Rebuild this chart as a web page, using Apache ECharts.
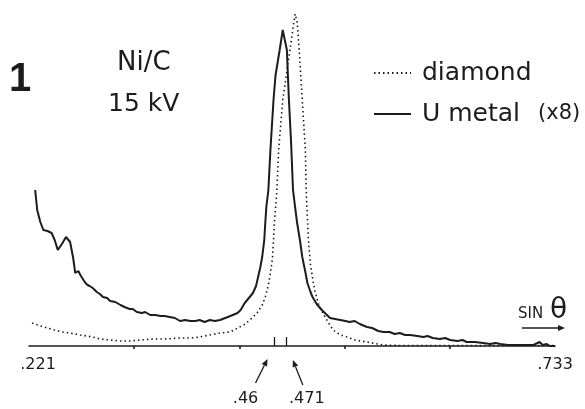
<!DOCTYPE html>
<html>
<head>
<meta charset="utf-8">
<script src="https://cdn.jsdelivr.net/npm/echarts@6/dist/echarts.min.js"></script>
<style>
  html, body { margin: 0; padding: 0; background: #fff; }
  #main { width: 585px; height: 409px; }
</style>
</head>
<body>
<div id="main"></div>
<script>
// sin(theta) scale
var axisMin = 0.221;
var axisMax = 0.733;
var endLabels = [0.221, 0.733];
var tickValues = [0.323, 0.426, 0.528, 0.631];
var markerValues = [0.46, 0.471];

// U metal (x8), solid trace - intensity in arbitrary units above the baseline
var uMetalSin = [.227,.228,.229,.232,.235,.239,.243,.246,.249,.253,
  .257,.261,.264,.266,.269,.271,.274,.276,.278,.280,
  .283,.287,.290,.293,.297,.300,.305,.310,.314,.319,
  .322,.326,.331,.334,.339,.344,.349,.353,.358,.363,
  .368,.373,.378,.383,.387,.392,.397,.402,.407,.412,
  .417,.424,.427,.431,.435,.439,.442,.444,.446,.448,
  .450,.451,.452,.454,.456,.459,.461,.465,.468,.470,
  .472,.473,.474,.476,.478,.480,.482,.485,.487,.490,
  .492,.495,.497,.501,.506,.510,.514,.519,.524,.529,
  .533,.538,.543,.550,.555,.561,.566,.572,.577,.582,
  .587,.592,.599,.605,.609,.614,.621,.626,.631,.638,
  .643,.647,.655,.663,.670,.675,.680,.687,.696,.704,
  .712,.716,.718,.721,.725,.728,.733];
var uMetalInt = [156,146,136,124,116,115,113,106,96,102,
  109,104,88,73,75,71,66,63,61,60,
  58,54,52,49,48,45,44,41,39,37,
  37,34,33,34,31,31,30,30,29,28,
  25,26,25,25,26,24,26,25,26,28,
  30,33,36,43,48,53,60,69,78,89,
  106,123,139,156,196,246,271,296,316,306,
  296,271,246,206,156,139,123,104,89,74,
  63,54,49,42,36,32,28,27,26,25,
  24,25,22,19,18,15,14,14,12,13,
  11,11,10,9,10,8,7,8,6,5,
  6,4,4,3,2,3,2,1,1,1,
  1,3,4,1,2,0,0];

// diamond, dotted trace
var diamondSin = [.224,.232,.239,.246,.253,.261,.271,.283,.290,.300,
  .310,.319,.329,.342,.353,.368,.378,.387,.397,.407,
  .417,.424,.430,.436,.443,.448,.451,.454,.456,.458,
  .459,.460,.462,.464,.468,.475,.478,.480,.482,.484,
  .487,.490,.491,.493,.495,.499,.503,.507,.512,.517,
  .524,.531,.538,.550,.566,.582,.631,.680,.733];
var diamondInt = [23,20,18,16,14,13,11,9,7,6,
  5,5,6,7,7,8,8,9,11,13,
  14,18,21,26,33,41,49,61,73,88,
  106,126,151,196,246,296,318,332,324,296,
  246,196,151,106,81,56,41,33,24,16,
  11,9,6,4,1,0.5,0.5,0.5,0.5];

var INK = '#1c1c1c';
var FONT = '"DejaVu Sans", sans-serif';

function zip(xs, ys) {
  var out = [];
  for (var i = 0; i < xs.length; i++) out.push([xs[i], ys[i]]);
  return out;
}
function noLeadZero(v) {
  return String(v).replace(/^0/, '');
}

// one hidden-line axis per marked value, so the two labels never collide
function markerAxis(v, pad) {
  return {
    type: 'value',
    min: axisMin,
    max: axisMax,
    position: 'bottom',
    splitLine: { show: false },
    axisLine: { show: false },
    axisTick: { show: true, inside: true, customValues: [v], length: 9, lineStyle: { color: INK, width: 1.3 } },
    axisLabel: {
      customValues: [v],
      margin: 45,
      hideOverlap: false,
      formatter: function (x) { return '{m|' + noLeadZero(x) + '}'; },
      rich: { m: { fontSize: 16, fontFamily: FONT, color: INK, padding: pad } }
    }
  };
}

var chart = echarts.init(document.getElementById('main'));

chart.setOption({
  backgroundColor: '#fff',
  animation: false,
  grid: { left: 29, right: 30, top: 6, bottom: 63, containLabel: false, outerBoundsMode: 'none' },
  legend: {
    orient: 'vertical',
    left: 368,
    top: 53,
    itemWidth: 37,
    itemHeight: 14,
    itemGap: 11,
    data: ['diamond', 'U metal'],
    itemStyle: { opacity: 0 },
    formatter: function (name) {
      return name === 'U metal' ? '{a|U metal}{b|(x8)}' : '{a|diamond}';
    },
    textStyle: {
      color: INK,
      lineHeight: 30,
      rich: {
        a: { fontSize: 25, fontFamily: FONT, color: INK, padding: [0, 0, 0, 6] },
        b: { fontSize: 21, fontFamily: FONT, color: INK, padding: [0, 0, 0, 18] }
      }
    }
  },
  xAxis: [{
    type: 'value',
    min: axisMin,
    max: axisMax,
    position: 'bottom',
    splitLine: { show: false },
    axisLine: { show: true, lineStyle: { color: INK, width: 1.6 } },
    axisTick: { show: true, customValues: tickValues, length: 3, lineStyle: { color: INK, width: 1.6 } },
    axisLabel: {
      customValues: endLabels,
      margin: 11,
      formatter: function (v) {
        return v === endLabels[0] ? '{l|' + noLeadZero(v) + '}' : '{r|' + noLeadZero(v) + '}';
      },
      rich: {
        l: { fontSize: 16, fontFamily: FONT, color: INK, padding: [0, 0, 0, 18] },
        r: { fontSize: 16, fontFamily: FONT, color: INK }
      }
    }
  },
    markerAxis(markerValues[0], [0, 58, 0, 0]),
    markerAxis(markerValues[1], [0, 0, 0, 42])
  ],
  yAxis: { type: 'value', min: 0, max: 340, show: false },
  series: [{
    name: 'diamond',
    type: 'line',
    symbol: 'none',
    xAxisIndex: 0,
    data: zip(diamondSin, diamondInt),
    lineStyle: { color: INK, width: 1.6, type: [1.5, 3] },
    itemStyle: { color: INK }
  }, {
    name: 'U metal',
    type: 'line',
    symbol: 'none',
    xAxisIndex: 0,
    data: zip(uMetalSin, uMetalInt),
    lineStyle: { color: INK, width: 2 },
    itemStyle: { color: INK }
  }]
});

// arrows and free text
function arrow(x1, y1, x2, y2, w) {
  var dx = x2 - x1, dy = y2 - y1;
  var len = Math.sqrt(dx * dx + dy * dy);
  var ux = dx / len, uy = dy / len;
  var hl = 7, hw = 3;
  var bx = x2 - ux * hl, by = y2 - uy * hl;
  return [{
    type: 'line',
    shape: { x1: x1, y1: y1, x2: bx, y2: by },
    style: { stroke: INK, lineWidth: w || 1.3 }
  }, {
    type: 'polygon',
    shape: { points: [[x2, y2], [bx - uy * hw, by + ux * hw], [bx + uy * hw, by - ux * hw]] },
    style: { fill: INK }
  }];
}
function label(text, x, y, font) {
  return {
    type: 'text', x: x, y: y,
    style: { text: text, font: font, fill: INK, align: 'left', verticalAlign: 'middle' }
  };
}

var baseY = chart.convertToPixel({ yAxisIndex: 0 }, 0);
var p46 = chart.convertToPixel({ xAxisIndex: 0 }, markerValues[0]);
var p471 = chart.convertToPixel({ xAxisIndex: 0 }, markerValues[1]);
var pEnd = chart.convertToPixel({ xAxisIndex: 0 }, axisMax);

var g = [];
g.push(label('1', 9, 80, 'bold 40px "Liberation Sans", sans-serif'));
g.push(label('Ni/C', 117, 63, '26px ' + FONT));
g.push(label('15 kV', 108, 104, '25px ' + FONT));
g.push(label('SIN', pEnd - 37, baseY - 32, '15px ' + FONT));
g.push(label('\u03b8', pEnd - 5, baseY - 35, '28px ' + FONT));
g = g.concat(arrow(pEnd - 33, baseY - 18, pEnd + 10, baseY - 18, 1.6));
g = g.concat(arrow(p46 - 19, baseY + 37, p46 - 7, baseY + 13));
g = g.concat(arrow(p471 + 17, baseY + 39, p471 + 7, baseY + 14));
chart.setOption({ graphic: g });
</script>
</body>
</html>
